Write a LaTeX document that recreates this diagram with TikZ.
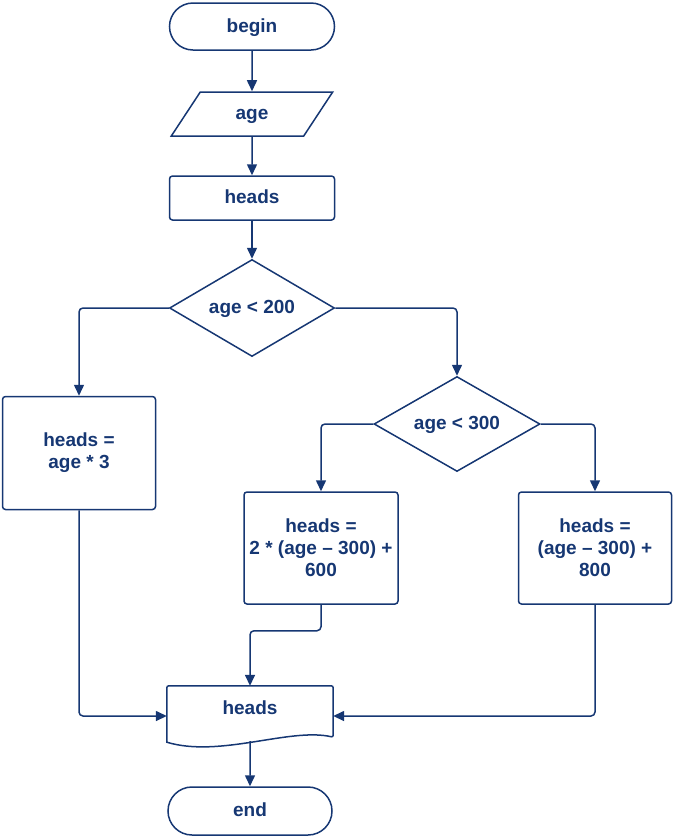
\documentclass[tikz,border=0pt]{standalone}
\usepackage{fontspec}
\setmainfont{Liberation Sans}
\usetikzlibrary{arrows.meta,shapes.geometric,shapes.misc}
\definecolor{navy}{RGB}{22,55,115}
\begin{document}
\begin{tikzpicture}[x=1pt,y=-1pt,
  base/.style={draw=navy, line width=1.5pt, text=navy, font=\bfseries\fontsize{19}{22}\selectfont, align=center, inner sep=0pt},
  one/.style={text height=14.5pt, text depth=3.5pt},
  term/.style={base, one, rounded rectangle, minimum width=165pt, minimum height=47pt},
  io/.style={base, one, trapezium, trapezium left angle=63, trapezium right angle=117, trapezium stretches=true, minimum width=162pt, minimum height=44pt},
  proc/.style={base, rectangle, rounded corners=3pt},
  dec/.style={base, one, diamond, aspect=1.7},
  txt/.style={one, text=navy, font=\bfseries\fontsize{19}{22}\selectfont, align=center, inner sep=0pt},
  arrow/.style={draw=navy, line width=1.5pt, -{Triangle[length=11pt,width=10pt]}, rounded corners=4pt}
]
\useasboundingbox (0,0) rectangle (674,839);

\node[term] (begin) at (252,26.5) {begin};
\node[io] (age) at (252,114) {age};
\node[proc, one, minimum width=165pt, minimum height=44pt] (heads) at (252,198) {heads};
\node[dec, minimum width=165pt, minimum height=97pt] (d1) at (252,308) {age < 200};
\node[proc, minimum width=153pt, minimum height=113pt] (lbox) at (79,453) {heads =\\age * 3};
\node[dec, minimum width=166pt, minimum height=95pt] (d2) at (457,424) {age < 300};
\node[proc, minimum width=154pt, minimum height=112pt] (mbox) at (321,548) {heads =\\2 * (age – 300) +\\600};
\node[proc, minimum width=153pt, minimum height=112pt] (rbox) at (595,548) {heads =\\(age – 300) +\\800};
\node[txt, minimum width=166pt, minimum height=46pt] (out) at (250,709) {heads};
\node[term, minimum width=164pt, minimum height=48pt] (end) at (250,811) {end};

% document shape of output
\draw[navy, line width=1.5pt, rounded corners=2pt]
  (out.north west) -- (out.north east) -- ([yshift=-5pt]out.south east)
  [sharp corners] .. controls ([xshift=-43pt,yshift=5pt]out.south east) and ([xshift=53pt,yshift=-26pt]out.south west) ..
  ([yshift=-10pt]out.south west) [rounded corners=2pt] -- cycle;

\draw[arrow] (begin) -- (age);
\draw[arrow] (age) -- (heads);
\draw[arrow] (heads) -- (d1);
\draw[arrow] (d1.west) -| (lbox.north);
\draw[arrow] (d1.east) -| (d2.north);
\draw[arrow] (d2.west) -| (mbox.north);
\draw[arrow] (d2.east) -| (rbox.north);
\draw[arrow] (lbox.south) |- ([yshift=-7pt]out.west);
\draw[arrow] (rbox.south) |- ([yshift=-7pt]out.east);
\draw[arrow] (mbox.south) -- ([yshift=-26pt]mbox.south) -| (out.north);
\draw[arrow] ([yshift=-9pt]out.south) -- (end);
\end{tikzpicture}
\end{document}
